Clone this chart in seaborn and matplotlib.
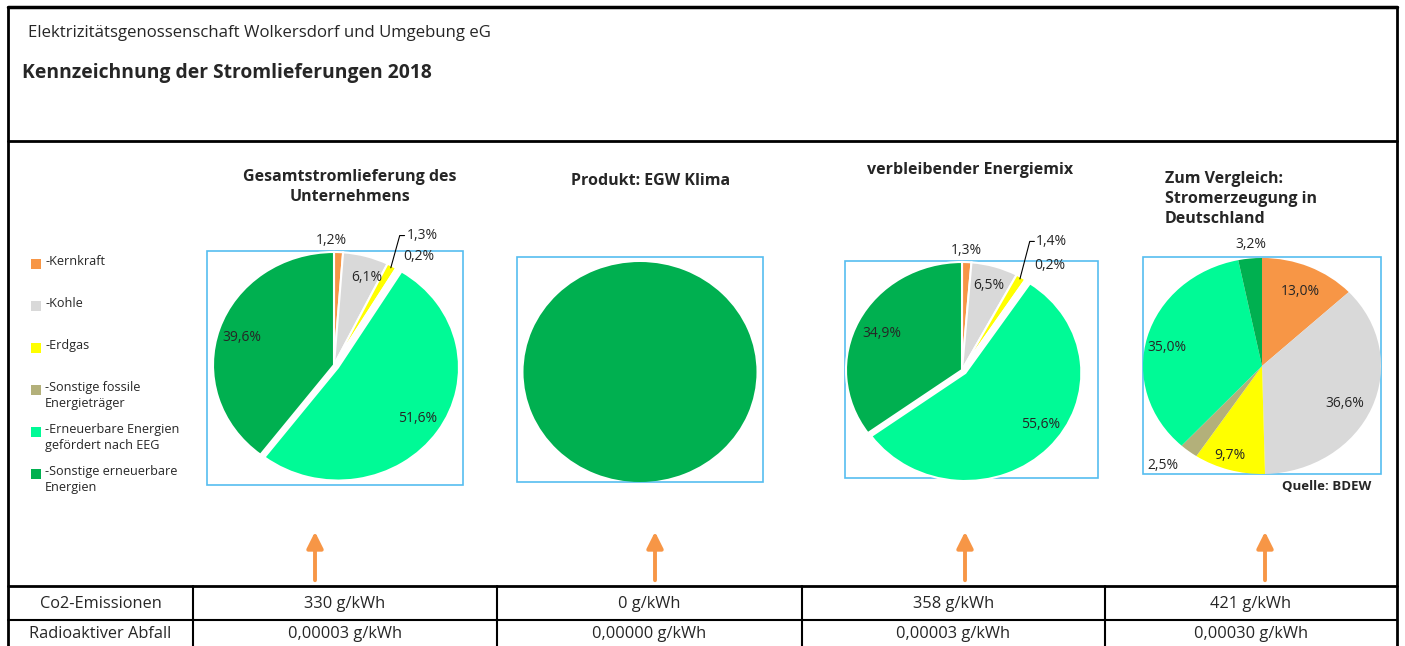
import numpy as np
import pandas as pd
import seaborn as sns
import matplotlib.pyplot as plt
from matplotlib.patches import Rectangle

# DATA ##############################################

categories = ['Kernkraft', 'Kohle', 'Erdgas', 'Sonstige fossile Energieträger',
              'Erneuerbare Energien gefördert nach EEG', 'Sonstige erneuerbare Energien']
legend_labels = ['-Kernkraft', '-Kohle', '-Erdgas', '-Sonstige fossile\nEnergieträger',
                 '-Erneuerbare Energien\ngefördert nach EEG', '-Sonstige erneuerbare\nEnergien']

gesamt = [1.2, 6.1, 1.3, 0.2, 51.6, 39.6]
produkt = [0.0, 0.0, 0.0, 0.0, 0.0, 100.0]
verbleibend = [1.3, 6.5, 1.4, 0.2, 55.6, 34.9]
deutschland = [13.0, 36.6, 9.7, 2.5, 35.0, 3.2]

pie_titles = ['Gesamtstromlieferung des\nUnternehmens', 'Produkt: EGW Klima',
              'verbleibender Energiemix', 'Zum Vergleich:\nStromerzeugung in\nDeutschland']

row_labels = ['Co2-Emissionen', 'Radioaktiver Abfall']
co2 = ['330 g/kWh', '0 g/kWh', '358 g/kWh', '421 g/kWh']
abfall = ['0,00003 g/kWh', '0,00000 g/kWh', '0,00003 g/kWh', '0,00030 g/kWh']

# STYLE ##############################################

sns.set_theme(style='white')
plt.rcParams['font.family'] = ['Open Sans', 'DejaVu Sans']
colors = sns.color_palette(['#F79646', '#D9D9D9', '#FFFF00', '#B3B07A', '#00FA96', '#00B050'])
box_col = '#56BDF0'
W, H = 1405, 646

fig = plt.figure(figsize=(W / 100, H / 100), dpi=100)
ax = fig.add_axes([0, 0, 1, 1])
ax.set_xlim(0, W)
ax.set_ylim(H, 0)
ax.axis('off')

# frame + header
ax.plot([8, 8], [7, H], color='black', lw=2)
ax.plot([1397, 1397], [7, H], color='black', lw=2)
ax.plot([8, 1397], [7, 7], color='black', lw=2.5)
ax.plot([8, 1397], [141, 141], color='black', lw=2)
ax.text(28, 33, 'Elektrizitätsgenossenschaft Wolkersdorf und Umgebung eG',
        fontsize=12.1, va='center', ha='left')
ax.text(22, 73, 'Kennzeichnung der Stromlieferungen 2018',
        fontsize=13.9, fontweight='bold', va='center', ha='left')

# legend
for i, lab in enumerate(legend_labels):
    y = 264 + 42 * i
    ax.add_patch(Rectangle((31, y - 5), 10, 10, color=colors[i], lw=0))
    ax.text(45, y - 9, lab, fontsize=9.1, va='top', ha='left', linespacing=1.25)

# pies ###############################################
# center (px), radii (px), explode, white edges, label radii, angle nudges
pies = [
    dict(vals=gesamt, c=(334, 365), r=(121, 113), explode=[0, 0, 0, 0, 0.04, 0], edge=1.5,
         dist=[1.1, 0.82, 1.36, 1.19, 0.84, 0.8], nudge=[3.5, -4, -4, -5, 0, 1], leader=2,
         box=(207, 251, 463, 485)),
    dict(vals=produkt, c=(640, 372), r=(116.5, 110), explode=None, edge=0,
         dist=None, nudge=None, leader=None, box=(517, 257, 763, 482)),
    dict(vals=verbleibend, c=(962, 370), r=(116, 108), explode=[0, 0, 0, 0, 0.04, 0], edge=1.5,
         dist=[1.11, 0.82, 1.42, 1.23, 0.84, 0.77], nudge=[0.5, 0, -2.4, -4.7, 7.4, 1], leader=2,
         box=(845, 261, 1098, 478)),
    dict(vals=deutschland, c=(1262, 366), r=(119, 108), explode=None, edge=0,
         dist=[0.76, 0.78, 0.87, 1.24, 0.82, 1.13], nudge=[-2, -3.5, -2, -4, 3.7, -1], leader=None,
         box=(1143, 257, 1381, 474)),
]

pad = 1.5
for p in pies:
    x0, y0, x1, y1 = p['box']
    ax.add_patch(Rectangle((x0, y0), x1 - x0, y1 - y0, fill=False, ec=box_col, lw=1.2))
    cx, cy = p['c']
    rx, ry = p['r']
    pax = fig.add_axes([(cx - pad * rx) / W, (H - cy - pad * ry) / H,
                        2 * pad * rx / W, 2 * pad * ry / H])
    wedges, _ = pax.pie(p['vals'], colors=colors, startangle=90, counterclock=False,
                        explode=p['explode'],
                        wedgeprops=dict(edgecolor='white', linewidth=p['edge']))
    pax.set_aspect('auto')
    pax.set_xlim(-pad, pad)
    pax.set_ylim(-pad, pad)
    pax.axis('off')
    if p['dist'] is None:
        continue
    for i, (w, v) in enumerate(zip(wedges, p['vals'])):
        ang = np.deg2rad((w.theta1 + w.theta2) / 2 + p['nudge'][i])
        lx, ly = p['dist'][i] * np.cos(ang), p['dist'][i] * np.sin(ang)
        pax.text(lx, ly, f'{v:.1f}%'.replace('.', ','), fontsize=10,
                 ha='center', va='center')
        if i == p['leader']:
            mid = np.deg2rad((w.theta1 + w.theta2) / 2)
            pax.plot([0.98 * np.cos(mid), lx - 0.19, lx - 0.15],
                     [0.98 * np.sin(mid), ly, ly], color='black', lw=0.8)

# pie titles
ax.text(350, 187, pie_titles[0], fontsize=11.5, fontweight='bold', ha='center', va='center',
        linespacing=1.3)
ax.text(651, 181, pie_titles[1], fontsize=11.5, fontweight='bold', ha='center', va='center')
ax.text(970, 170, pie_titles[2], fontsize=11.5, fontweight='bold', ha='center', va='center')
ax.text(1165, 199, pie_titles[3], fontsize=11.5, fontweight='bold', ha='left', va='center',
        linespacing=1.3)
ax.text(1327, 486, 'Quelle: BDEW', fontsize=9.5, fontweight='bold', ha='center', va='center')

# arrows
for x in [315, 655, 965, 1265]:
    ax.annotate('', xy=(x, 529), xytext=(x, 583),
                arrowprops=dict(arrowstyle='-|>,head_width=0.35,head_length=0.7',
                                color='#F79646', lw=2.8, mutation_scale=14))

# table
col_edges = [8, 193, 497, 802, 1105, 1397]
ax.plot([8, 1397], [586, 586], color='black', lw=2)
ax.plot([8, 1397], [620, 620], color='black', lw=1.5)
for x in col_edges[1:-1]:
    ax.plot([x, x], [586, H], color='black', lw=1.5)
for j, (lab, row) in enumerate(zip(row_labels, [co2, abfall])):
    y = 604 + 30 * j
    ax.text((col_edges[0] + col_edges[1]) / 2, y, lab, fontsize=11.8, ha='center', va='center')
    for k, val in enumerate(row):
        ax.text((col_edges[k + 1] + col_edges[k + 2]) / 2, y, val, fontsize=11.8,
                ha='center', va='center')

fig.savefig('out.png', dpi=100)
